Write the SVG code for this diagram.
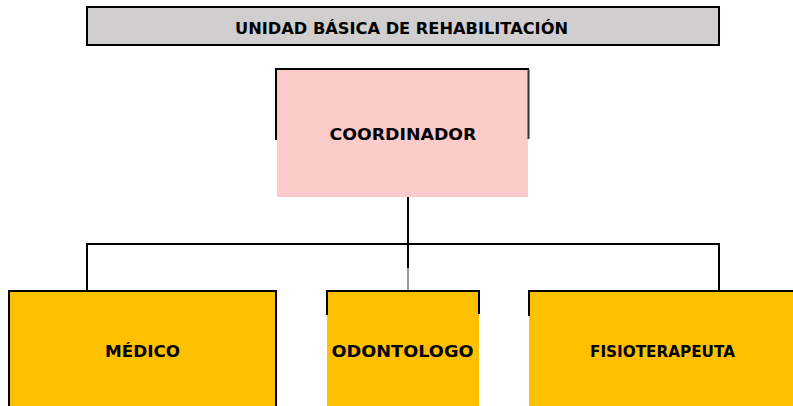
<svg xmlns="http://www.w3.org/2000/svg" width="793" height="406" viewBox="0 0 793 406">
<style>
.t{font-family:"DejaVu Sans","Liberation Sans",sans-serif;font-weight:bold;font-size:16px;fill:#000;text-anchor:middle}
.ln{stroke:#000;stroke-width:2;fill:none}
.or{fill:#FFC000}
</style>
<rect width="793" height="406" fill="#fff"/>
<g id="title">
<rect x="87" y="7" width="632" height="38" fill="#D0CECE" stroke="#000" stroke-width="2"/>
<text class="t" x="401.5" y="34" textLength="333" lengthAdjust="spacingAndGlyphs">UNIDAD BÁSICA DE REHABILITACIÓN</text>
</g>
<g id="connectors">
<line class="ln" x1="408" y1="197" x2="408" y2="268"/>
<line x1="408" y1="268" x2="408" y2="291" stroke="#777" stroke-width="1.5"/>
<polyline class="ln" points="87,291 87,244 719,244 719,291"/>
</g>
<g id="coordinador">
<rect x="277" y="69" width="251" height="128" fill="#FECBCB"/>
<polyline class="ln" points="276,140 276,69 529,69"/>
<line x1="528.5" y1="69" x2="528.5" y2="139" stroke="#333" stroke-width="2"/>
<text class="t" x="403" y="140" textLength="147" lengthAdjust="spacingAndGlyphs">COORDINADOR</text>
</g>
<g id="medico">
<rect class="or" x="9" y="291" width="267" height="120" stroke="#000" stroke-width="2"/>
<text class="t" x="142.5" y="357" textLength="75" lengthAdjust="spacingAndGlyphs">MÉDICO</text>
</g>
<g id="odontologo">
<rect class="or" x="327" y="291" width="152" height="115"/>
<polyline class="ln" points="327,315 327,291 479,291 479,314"/>
<text class="t" x="402.5" y="357" textLength="142" lengthAdjust="spacingAndGlyphs">ODONTOLOGO</text>
</g>
<g id="fisioterapeuta">
<rect class="or" x="529" y="291" width="264" height="115"/>
<polyline class="ln" points="529,316 529,291 793,291"/>
<text class="t" x="662.5" y="357" textLength="145" lengthAdjust="spacingAndGlyphs">FISIOTERAPEUTA</text>
</g>
</svg>
